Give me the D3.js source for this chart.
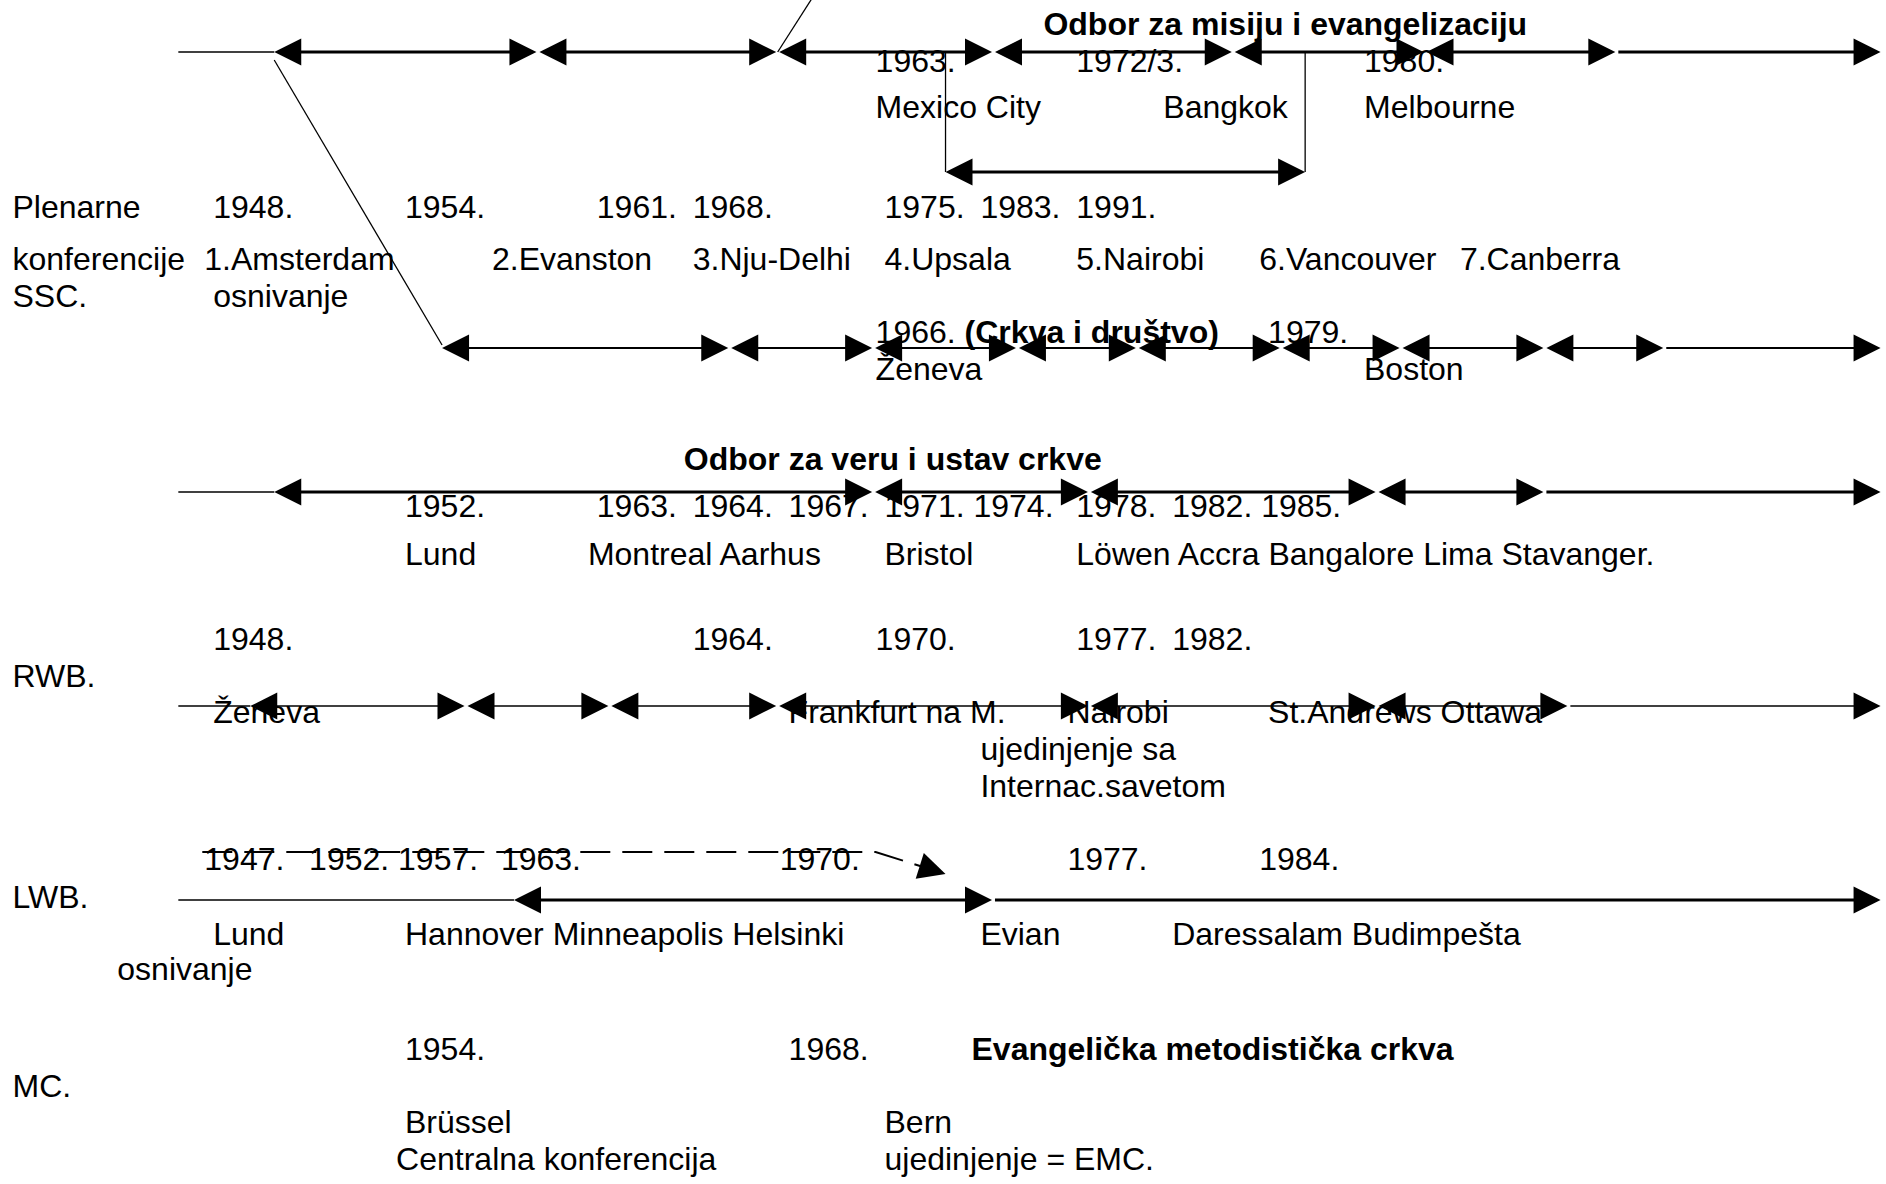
<!DOCTYPE html>
<html><head><meta charset="utf-8">
<script src="https://cdn.jsdelivr.net/npm/d3@7"></script>
<style>
html,body{margin:0;padding:0;background:#fff;overflow:hidden}
svg text{font-family:"Liberation Sans",Arial,Helvetica,sans-serif;font-size:32px;fill:#000;white-space:pre}
</style></head>
<body><svg id="c" width="1886" height="1184"></svg>
<script>
// ================= DATA =================
// Horizontal positions are in tab-stop units of the original document (col 0 = left margin).
const timelineStart = 1.75;
const timelineEnd = 19.5;

// break points of the arrow segments on each track
const missionBreaks = [2.75, 5.5, 8, 10.25, 12.75, 14.75, 16.75];
const societyBreaks = [4.5, 7.5, 9, 10.5, 11.75, 13.25, 14.5, 16, 17.25];
const faithBreaks   = [2.75, 9, 11.25, 14.25, 16];
const rwbBreaks     = [2.5, 4.75, 6.25, 8, 11.25, 14.25, 16.25];
const lwbBreaks     = [5.25, 10.25];
const bracketSpan   = [9.75, 13.5];        // Mexico City -> Bangkok bracket
const lwbDashed     = [2, 9, 9.75];        // dashed path: start, bend, arrow tip
const societyLink   = [2.75, 4.5];         // slanted line mission -> society
const missionFeed   = [8, 8.36];           // slanted line leaving upward

// text: [text, tab column]
const missionTitle  = [["Odbor za misiju i evangelizaciju", 10.75]];
const missionYears  = [["1963.", 9], [" 1972/3.", 11], [" 1980.", 14]];
const missionPlaces = [["Mexico City", 9], ["Bangkok", 12], [" Melbourne", 14]];
const plenaryYears  = [["Plenarne", 0], [" 1948.", 2], [" 1954.", 4], [" 1961.", 6], [" 1968.", 7], [" 1975.", 9], [" 1983.", 10], [" 1991.", 11]];
const plenaryPlaces = [["konferencije", 0], ["1.Amsterdam", 2], ["2.Evanston", 5], [" 3.Nju-Delhi", 7], [" 4.Upsala", 9], [" 5.Nairobi", 11], ["6.Vancouver", 13], [" 7.Canberra", 15]];
const plenaryNotes  = [["SSC.", 0], [" osnivanje", 2]];
const societyYears  = [["1966. ", 9, "(Crkva i društvo)"], [" 1979.", 13]];
const societyPlaces = [["Ženeva", 9], [" Boston", 14]];
const faithTitle    = [["Odbor za veru i ustav crkve", 7]];
const faithYears    = [[" 1952.", 4], [" 1963.", 6], [" 1964.", 7], [" 1967.", 8], [" 1971. 1974.", 9], [" 1978.", 11], [" 1982. 1985.", 12]];
const faithPlaces   = [[" Lund", 4], ["Montreal Aarhus", 6], [" Bristol", 9], [" Löwen Accra Bangalore Lima Stavanger.", 11]];
const rwbYears      = [[" 1948.", 2], [" 1964.", 7], ["1970.", 9], [" 1977.", 11], [" 1982.", 12]];
const rwbName       = [["RWB.", 0]];
const rwbPlaces     = [[" Ženeva", 2], [" Frankfurt na M.", 8], ["Nairobi", 11], [" St.Andrews Ottawa", 13]];
const rwbNote1      = [[" ujedinjenje sa", 10]];
const rwbNote2      = [[" Internac.savetom", 10]];
const lwbYears      = [["1947.", 2], [" 1952. 1957.", 3], [" 1963.", 5], ["1970.", 8], ["1977.", 11], ["1984.", 13]];
const lwbName       = [["LWB.", 0]];
const lwbPlaces     = [[" Lund", 2], [" Hannover Minneapolis Helsinki", 4], [" Evian", 10], [" Daressalam Budimpešta", 12]];
const lwbNotes      = [[" osnivanje", 1]];
const mcYears       = [[" 1954.", 4], [" 1968.", 8]];
const mcTitle       = [["Evangelička metodistička crkva", 10]];
const mcName        = [["MC.", 0]];
const mcPlaces      = [[" Brüssel", 4], [" Bern", 9]];
const mcNotes       = [["Centralna konferencija", 4], [" ujedinjenje = EMC.", 9]];

// ================= LAYOUT =================
const W = 1886, H = 1184;
const svg = d3.select("#c");
const x = d3.scaleLinear().domain([0, 1]).range([10.5, 106.4]);
const TEXT_DX = 2;

const lineKeys = ["missionTitle","missionYear","missionPlace","bracket","plen1","plen2","plen3",
  "societyYear","society","societyPlace","faithTitle","faith","faithYear","faithPlace",
  "rwbYear","rwbName","rwb","rwbPlace","rwbNote1","rwbNote2","lwbDash","lwbYear","lwb","lwbName","lwbPlace","lwbNote",
  "mcYear","mcName","mcPlace","mcNote","mission"];
const lineVals = [35,72,118,172,218,270,307,
  343,348,380,470,492,517,565,
  650,687,706,723,760,797,852,870,900,908,945,980,
  1060,1097,1133,1170,52];
const y = d3.scaleOrdinal().domain(lineKeys).range(lineVals);

const gText = svg.append("g");
const gLines = svg.append("g");

function addText(arr, key, bold) {
  gText.selectAll(null).data(arr).enter().append("text")
    .attr("xml:space", "preserve")
    .attr("x", d => x(d[1]) + TEXT_DX)
    .attr("y", y(key))
    .attr("font-weight", bold ? "bold" : null)
    .each(function(d) {
      const t = d3.select(this);
      t.append("tspan").text(d[0]);
      if (d[2]) t.append("tspan").attr("font-weight", "bold").text(d[2]);
    });
}
addText(missionTitle, "missionTitle", true);
addText(missionYears, "missionYear");
addText(missionPlaces, "missionPlace");
addText(plenaryYears, "plen1");
addText(plenaryPlaces, "plen2");
addText(plenaryNotes, "plen3");
addText(societyYears, "societyYear");
addText(societyPlaces, "societyPlace");
addText(faithTitle, "faithTitle", true);
addText(faithYears, "faithYear");
addText(faithPlaces, "faithPlace");
addText(rwbYears, "rwbYear");
addText(rwbName, "rwbName");
addText(rwbPlaces, "rwbPlace");
addText(rwbNote1, "rwbNote1");
addText(rwbNote2, "rwbNote2");
addText(lwbYears, "lwbYear");
addText(lwbName, "lwbName");
addText(lwbPlaces, "lwbPlace");
addText(lwbNotes, "lwbNote");
addText(mcYears, "mcYear");
addText(mcTitle, "mcYear", true);
addText(mcName, "mcName");
addText(mcPlaces, "mcPlace");
addText(mcNotes, "mcNote");

// ---- arrows ----
const HEAD_L = 27, HEAD_W = 13.5, GAP = 1.5;
const THIN = 1.3;

function line(x1, y1, x2, y2, w, dash) {
  gLines.append("line").attr("x1", x1).attr("y1", y1).attr("x2", x2).attr("y2", y2)
    .attr("stroke", "#000").attr("stroke-width", w)
    .attr("stroke-dasharray", dash || null);
}
function head(tx, ty, angle) { // angle: direction the arrow points
  const c = Math.cos(angle), s = Math.sin(angle);
  const bx = tx - HEAD_L * c, by = ty - HEAD_L * s;
  const p = [[tx, ty], [bx - HEAD_W * s, by + HEAD_W * c], [bx + HEAD_W * s, by - HEAD_W * c]];
  gLines.append("path").attr("d", "M" + p.map(q => q.join(",")).join("L") + "Z").attr("fill", "#000");
}
function dbl(a, b, yy, w) {
  line(a + 4, yy, b - 4, yy, w);
  head(a, yy, Math.PI);
  head(b, yy, 0);
}
function track(breaks, key, w, leadW, lead) {
  const yy = y(key);
  if (lead) line(x(timelineStart), yy, x(breaks[0]), yy, leadW);
  for (let i = 0; i < breaks.length - 1; i++) {
    const a = x(breaks[i]) + (i === 0 ? 0 : GAP);
    const b = x(breaks[i + 1]) - GAP;
    dbl(a, b, yy, w);
  }
  const last = x(breaks[breaks.length - 1]) + GAP;
  line(last, yy, x(timelineEnd) - 4, yy, w);
  head(x(timelineEnd), yy, 0);
}

track(missionBreaks, "mission", 3, THIN, true);
track(societyBreaks, "society", 2.2, THIN, false);
track(faithBreaks, "faith", 3, THIN, true);
track(rwbBreaks, "rwb", 1.6, 1.6, true);
track(lwbBreaks, "lwb", 3, THIN, true);

// bracket Mexico City - Bangkok
line(x(bracketSpan[0]), y("mission"), x(bracketSpan[0]), y("bracket"), THIN);
line(x(bracketSpan[1]), y("mission"), x(bracketSpan[1]), y("bracket"), THIN);
dbl(x(bracketSpan[0]), x(bracketSpan[1]), y("bracket"), 3);

// slanted connectors
line(x(societyLink[0]), y("mission") + 8, x(societyLink[1]), y("society") - 3, THIN);
line(x(missionFeed[0]), y("mission"), x(missionFeed[1]), -2, THIN);

// LWB dashed path
{
  const yd = y("lwbDash");
  const x0 = x(lwbDashed[0]), x1 = x(lwbDashed[1]), tx = x(lwbDashed[2]);
  const ty = y("lwb") - 26;
  const ang = Math.atan2(ty - yd, tx - (x1 + 2));
  gLines.append("path")
    .attr("d", `M${x0},${yd}H${x1 + 2}L${tx - (HEAD_L - 2) * Math.cos(ang)},${ty - (HEAD_L - 2) * Math.sin(ang)}`)
    .attr("fill", "none").attr("stroke", "#000").attr("stroke-width", 2)
    .attr("stroke-dasharray", "30,12");
  head(tx, ty, ang);
}
</script>
</body></html>
